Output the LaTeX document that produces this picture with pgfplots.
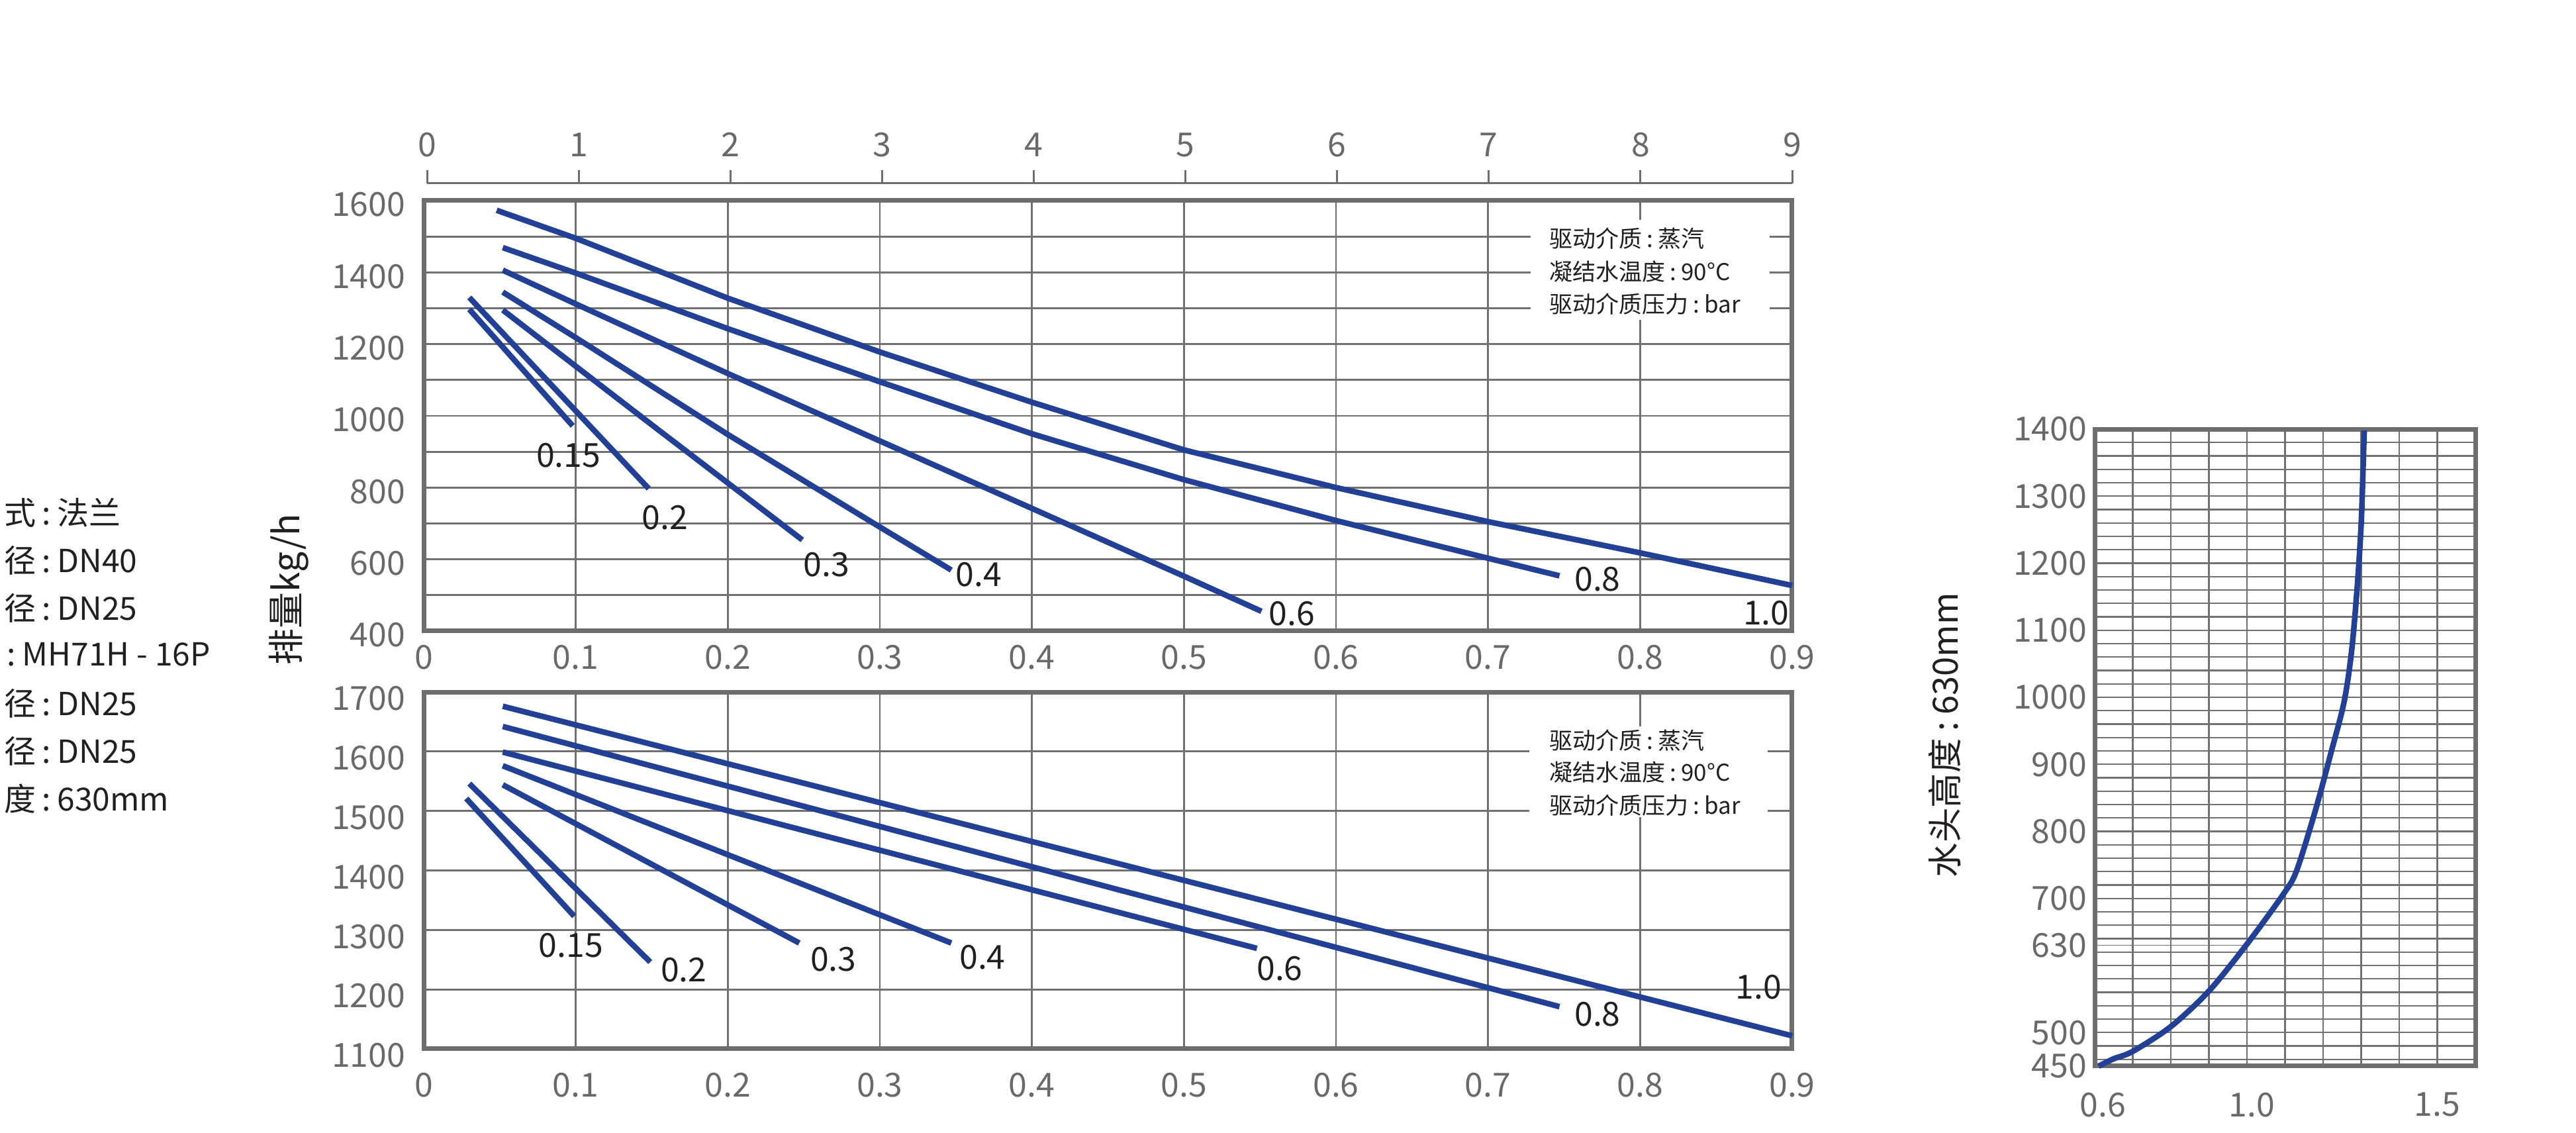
\documentclass[border=0pt]{standalone}
\usepackage{pgfplots}
\pgfplotsset{compat=1.18}
\usepackage{fontspec}
\setmainfont{Noto Sans CJK SC}
\definecolor{axgray}{RGB}{110,110,110}
\definecolor{grd}{RGB}{112,112,112}
\definecolor{lblgray}{RGB}{105,105,105}
\definecolor{cblue}{RGB}{35,64,151}
\definecolor{txt}{RGB}{35,31,32}
\newcommand{\tf}{\fontsize{10}{12}\selectfont}
\newcommand{\legf}{\fontsize{7}{8.4}\selectfont}
\newcommand{\ylf}{\fontsize{11}{13}\selectfont}
\newcommand{\ylfb}{\fontsize{10.5}{12.5}\selectfont}
\newcommand{\lef}{\fontsize{9.6}{11.5}\selectfont}
\newcommand{\cl}{\kern0.2em:\kern0.2em}
\pgfplotsset{
  panel/.style={
    scale only axis, anchor=south west, clip=false,
    axis line style={axgray, line width=1.4pt},
    major grid style={grd, line width=0.55pt},
    minor grid style={grd, line width=0.55pt},
    major tick length=0pt, minor tick length=0pt,
    tick label style={font=\tf, text=lblgray},
  },
  curve/.style={cblue, line width=1.7pt, line join=round},
}
\tikzset{
  clab/.style={font=\tf, text=txt},
  legt/.style={anchor=west, font=\legf, text=txt, inner sep=0pt},
}
\begin{document}
\begin{tikzpicture}
\path[use as bounding box] (0,0) rectangle (778.2pt,342.2pt);

% left text (partly cut off at the page edge)
\begin{scope}[every node/.style={anchor=west, font=\lef, text=txt, inner sep=0pt}]
\node at (1pt,187.4pt) {式\cl 法兰};
\node at (1pt,173.0pt) {径\cl DN40};
\node at (1pt,158.6pt) {径\cl DN25};
\node at (1pt,144.6pt) {\kern0.1em:\kern0.2em MH71H - 16P};
\node at (1pt,129.8pt) {径\cl DN25};
\node at (1pt,115.4pt) {径\cl DN25};
\node at (1pt,101.0pt) {度\cl 630mm};
\end{scope}

\node[rotate=90, font=\ylf, text=txt] at (87.2pt,164.2pt) {排量kg/h};
\node[rotate=90, font=\ylfb, text=txt] at (587.4pt,120.2pt) {水头高度\cl 630mm};

% secondary top scale 0..9
\begin{axis}[at={(129pt,286.8pt)}, anchor=south west, scale only axis,
  width=412.4pt, height=4pt, xmin=0, xmax=9, ymin=0, ymax=1,
  axis x line=bottom, axis y line=none,
  x axis line style={-, axgray, line width=0.6pt},
  xtick={0,1,2,3,4,5,6,7,8,9}, xticklabels={0,1,2,3,4,5,6,7,8,9},
  xtick align=inside, major tick length=4pt,
  xtick style={axgray, line width=0.6pt},
  xticklabel style={anchor=base, inner sep=0pt, yshift=8pt, font=\tf, text=lblgray},
]
\end{axis}

% top panel
\begin{axis}[panel, at={(128pt,151.6pt)}, width=413.4pt, height=130pt,
  xmin=0, xmax=0.9, ymin=400, ymax=1600, grid=both,
  xtick={0,0.1,0.2,0.3,0.4,0.5,0.6,0.7,0.8,0.9},
  xticklabels={0,0.1,0.2,0.3,0.4,0.5,0.6,0.7,0.8,0.9},
  ytick={400,600,800,1000,1200,1400,1600},
  yticklabels={400,600,800,1000,1200,1400,1600},
  minor ytick={500,700,900,1100,1300,1500},
  xticklabel style={anchor=north, inner sep=0pt, yshift=-4pt},
  yticklabel style={anchor=east, inner sep=0pt, xshift=-5.4pt, yshift=-1.2pt},
]
\fill[white] (axis cs:0.728,1268) rectangle (axis cs:0.885,1546);
\node[legt] at (axis cs:0.740,1494) {驱动介质\cl 蒸汽};
\node[legt] at (axis cs:0.740,1402) {凝结水温度\cl 90°C};
\node[legt] at (axis cs:0.740,1312) {驱动介质压力\cl bar};
\addplot[curve] coordinates {(0.048,1573) (0.1,1495) (0.2,1328) (0.3,1178) (0.4,1038) (0.5,905) (0.6,800) (0.7,705) (0.8,618) (0.9,527)};
\addplot[curve] coordinates {(0.052,1469) (0.1,1398) (0.2,1243) (0.3,1095) (0.4,950) (0.5,822) (0.6,708) (0.7,603) (0.747,554)};
\addplot[curve] coordinates {(0.052,1406) (0.1,1312) (0.2,1118) (0.3,930) (0.4,742) (0.5,553) (0.551,455)};
\addplot[curve] coordinates {(0.052,1345) (0.1,1218) (0.2,948) (0.3,690) (0.347,570)};
\addplot[curve] coordinates {(0.052,1295) (0.15,975) (0.249,654)};
\addplot[curve] coordinates {(0.030,1330) (0.148,797)};
\addplot[curve] coordinates {(0.030,1297) (0.098,972)};
\node[clab] at (axis cs:0.0952,889) {0.15};
\node[clab] at (axis cs:0.1586,717) {0.2};
\node[clab] at (axis cs:0.265,586) {0.3};
\node[clab] at (axis cs:0.365,558) {0.4};
\node[clab] at (axis cs:0.571,448) {0.6};
\node[clab] at (axis cs:0.772,545) {0.8};
\node[clab] at (axis cs:0.883,451) {1.0};
\end{axis}

% bottom panel
\begin{axis}[panel, at={(128pt,25.4pt)}, width=413.4pt, height=107.8pt,
  xmin=0, xmax=0.9, ymin=1100, ymax=1700, grid=major,
  xtick={0,0.1,0.2,0.3,0.4,0.5,0.6,0.7,0.8,0.9},
  xticklabels={0,0.1,0.2,0.3,0.4,0.5,0.6,0.7,0.8,0.9},
  ytick={1100,1200,1300,1400,1500,1600,1700},
  yticklabels={1100,1200,1300,1400,1500,1600,1700},
  xticklabel style={anchor=north, inner sep=0pt, yshift=-7pt},
  yticklabel style={anchor=east, inner sep=0pt, xshift=-5.4pt, yshift=-2pt},
]
\fill[white] (axis cs:0.727,1490) rectangle (axis cs:0.884,1642);
\node[legt] at (axis cs:0.740,1618) {驱动介质\cl 蒸汽};
\node[legt] at (axis cs:0.740,1565) {凝结水温度\cl 90°C};
\node[legt] at (axis cs:0.740,1510) {驱动介质压力\cl bar};
\addplot[curve] coordinates {(0.052,1676) (0.9,1122)};
\addplot[curve] coordinates {(0.052,1642) (0.747,1171)};
\addplot[curve] coordinates {(0.052,1599) (0.548,1269)};
\addplot[curve] coordinates {(0.052,1576) (0.347,1278)};
\addplot[curve] coordinates {(0.052,1544) (0.247,1278)};
\addplot[curve] coordinates {(0.030,1546) (0.149,1246)};
\addplot[curve] coordinates {(0.028,1521) (0.099,1323)};
\node[clab] at (axis cs:0.0969,1274) {0.15};
\node[clab] at (axis cs:0.171,1233) {0.2};
\node[clab] at (axis cs:0.2694,1251) {0.3};
\node[clab] at (axis cs:0.3675,1254) {0.4};
\node[clab] at (axis cs:0.563,1235) {0.6};
\node[clab] at (axis cs:0.772,1158) {0.8};
\node[clab] at (axis cs:0.878,1204) {1.0};
\end{axis}

% right panel: head height correction
\begin{axis}[panel, at={(632.8pt,20.2pt)}, width=115pt, height=192.4pt,
  xmin=0.6, xmax=1.6, ymin=450, ymax=1400, grid=minor,
  xtick={0.6,1.0,1.5}, xticklabels={\kern5pt0.6,\kern3pt1.0,1.5},
  ytick={450,500,630,700,800,900,1000,1100,1200,1300,1400},
  yticklabels={450,500,630,700,800,900,1000,1100,1200,1300,1400},
  minor xtick={0.7,0.8,0.9,1.0,1.1,1.2,1.3,1.4,1.5},
  minor ytick={460,480,...,1380},
  minor grid style={grd, line width=0.45pt},
  xticklabel style={anchor=north, inner sep=0pt, yshift=-7.8pt},
  yticklabel style={anchor=east, inner sep=0pt, xshift=-2.2pt},
]
\draw[grd, line width=0.25pt] (axis cs:0.6,630) -- (axis cs:1.0,630);
\addplot[curve, smooth] coordinates {(0.61,450) (0.65,461) (0.7,472) (0.8,509) (0.9,562) (1.0,632) (1.095,706) (1.13,741) (1.18,832) (1.22,916) (1.255,993) (1.275,1070) (1.29,1168) (1.30,1259) (1.305,1343) (1.308,1398)};
\end{axis}
\end{tikzpicture}
\end{document}
